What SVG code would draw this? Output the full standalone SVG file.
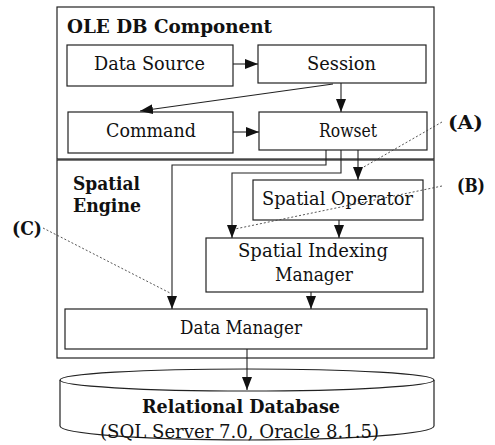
<svg xmlns="http://www.w3.org/2000/svg" width="495" height="445" viewBox="0 0 495 445">
<style>
.box{fill:none;stroke:#222;stroke-width:1.2}
.t{font-family:"DejaVu Serif","Liberation Serif",serif;font-size:19px;fill:#111}
.b{font-family:"DejaVu Serif","Liberation Serif",serif;font-size:19px;font-weight:bold;fill:#111}
.ln{fill:none;stroke:#222;stroke-width:1.1}
.dot{fill:none;stroke:#444;stroke-width:0.9;stroke-dasharray:2 2}
</style>
<defs>
<marker id="ah" markerUnits="userSpaceOnUse" markerWidth="13" markerHeight="10" refX="13" refY="5" orient="auto">
<path d="M0,0 L13,5 L0,10 z" fill="#111"/>
</marker>
</defs>
<rect width="495" height="445" fill="#fff"/>
<g id="oledb">
<rect class="box" x="57" y="7" width="377" height="152"/>
<text class="b" x="67" y="33" textLength="205" lengthAdjust="spacingAndGlyphs">OLE DB Component</text>
</g>
<g id="engine">
<rect class="box" x="57" y="160" width="377" height="198"/>
<text class="b" x="73" y="190" textLength="67" lengthAdjust="spacingAndGlyphs">Spatial</text>
<text class="b" x="73" y="212" textLength="68" lengthAdjust="spacingAndGlyphs">Engine</text>
</g>
<g id="datasource">
<rect class="box" x="67" y="45" width="166" height="41"/>
<text class="t" x="94" y="70" textLength="111" lengthAdjust="spacingAndGlyphs">Data Source</text>
</g>
<g id="session">
<rect class="box" x="258" y="45" width="168" height="38"/>
<text class="t" x="307" y="70" textLength="69" lengthAdjust="spacingAndGlyphs">Session</text>
</g>
<g id="command">
<rect class="box" x="68" y="112" width="165" height="41"/>
<text class="t" x="106" y="137" textLength="90" lengthAdjust="spacingAndGlyphs">Command</text>
</g>
<g id="rowset">
<rect class="box" x="259" y="112" width="168" height="38"/>
<text class="t" x="319" y="137" textLength="58" lengthAdjust="spacingAndGlyphs">Rowset</text>
</g>
<g id="spatialop">
<rect class="box" x="253" y="180" width="170" height="40"/>
<text class="t" x="262" y="205" textLength="151" lengthAdjust="spacingAndGlyphs">Spatial Operator</text>
</g>
<g id="sim">
<rect class="box" x="206" y="238" width="217" height="54"/>
<text class="t" x="238" y="257" textLength="150" lengthAdjust="spacingAndGlyphs">Spatial Indexing</text>
<text class="t" x="275" y="281" textLength="78" lengthAdjust="spacingAndGlyphs">Manager</text>
</g>
<g id="datamanager">
<rect class="box" x="65" y="309" width="362" height="40"/>
<text class="t" x="180" y="334" textLength="122" lengthAdjust="spacingAndGlyphs">Data Manager</text>
</g>
<g id="database">
<path class="box" d="M60,380 L60,426 A187,14 0 0 0 434,426 L434,380"/>
<ellipse class="box" cx="247" cy="380" rx="187" ry="11" fill="#fff"/>
<text class="b" x="142" y="413" textLength="198" lengthAdjust="spacingAndGlyphs">Relational Database</text>
<text class="t" x="100" y="438" textLength="279" lengthAdjust="spacingAndGlyphs">(SQL Server 7.0, Oracle 8.1.5)</text>
</g>
<g id="connectors">
<line class="ln" x1="233" y1="64" x2="258" y2="64" marker-end="url(#ah)"/>
<line class="ln" x1="341" y1="83" x2="341" y2="112" marker-end="url(#ah)"/>
<line class="ln" x1="333" y1="84" x2="140" y2="111" marker-end="url(#ah)"/>
<line class="ln" x1="233" y1="132" x2="259" y2="132" marker-end="url(#ah)"/>
<line class="ln" x1="358" y1="150" x2="358" y2="180" marker-end="url(#ah)"/>
<polyline class="ln" points="326,150 326,165 172,165 172,309" marker-end="url(#ah)"/>
<polyline class="ln" points="341,150 341,173 232,173 232,238" marker-end="url(#ah)"/>
<line class="ln" x1="339" y1="220" x2="339" y2="238" marker-end="url(#ah)"/>
<line class="ln" x1="311" y1="292" x2="311" y2="309" marker-end="url(#ah)"/>
<line class="ln" x1="247" y1="349" x2="247" y2="390" marker-end="url(#ah)"/>
</g>
<g id="annotations">
<line class="dot" x1="442" y1="122" x2="362" y2="168"/>
<line class="dot" x1="442" y1="186" x2="235" y2="229"/>
<line class="dot" x1="43" y1="228" x2="170" y2="293"/>
<text class="b" x="448" y="129" textLength="35" lengthAdjust="spacingAndGlyphs">(A)</text>
<text class="b" x="457" y="192" textLength="28" lengthAdjust="spacingAndGlyphs">(B)</text>
<text class="b" x="12" y="235" textLength="30" lengthAdjust="spacingAndGlyphs">(C)</text>
</g>
</svg>
